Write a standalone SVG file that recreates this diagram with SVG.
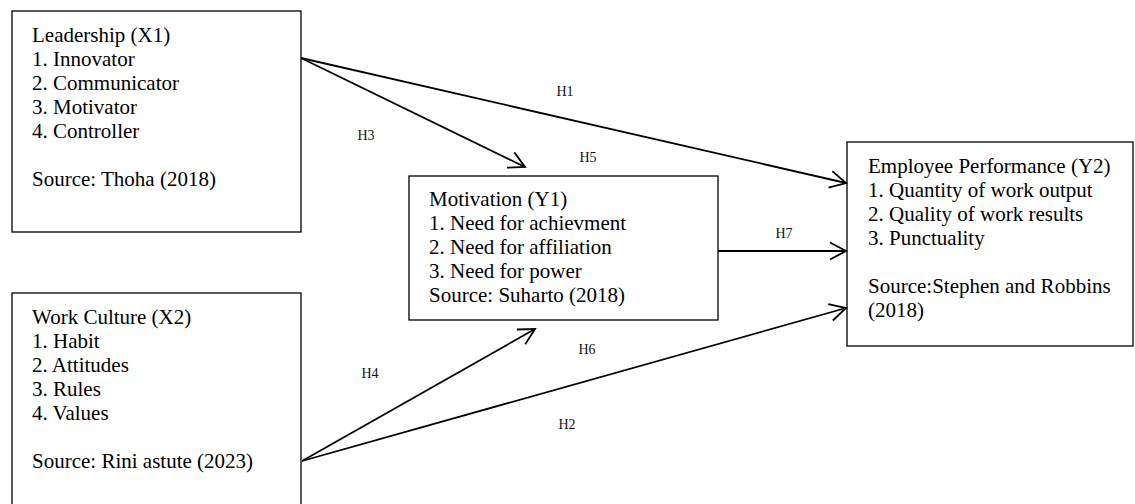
<svg xmlns="http://www.w3.org/2000/svg" width="1135" height="504" viewBox="0 0 1135 504">
<style>
.box{fill:#fff;stroke:#000;stroke-width:1.3}
.t{font-family:"Liberation Serif","Times New Roman",serif;font-size:21px;fill:#000}
.lbl{font-family:"Liberation Serif","Times New Roman",serif;font-size:14px;fill:#111;text-anchor:middle}
.c{fill:none;stroke:#000;stroke-width:1.8;marker-end:url(#ah)}
</style>
<defs>
<marker id="ah" markerUnits="userSpaceOnUse" markerWidth="24" markerHeight="24" viewBox="-20 -12 24 24" refX="0" refY="0" orient="auto">
<path d="M-16,-8.5 L0,0 L-16,8.5" fill="none" stroke="#000" stroke-width="1.8"/>
</marker>
</defs>
<rect width="1135" height="504" fill="#fff"/>
<g id="leadership">
<rect class="box" x="12" y="11" width="289" height="221"/>
<text class="t" x="32" y="42">Leadership (X1)</text>
<text class="t" x="32" y="66">1. Innovator</text>
<text class="t" x="32" y="90">2. Communicator</text>
<text class="t" x="32" y="114">3. Motivator</text>
<text class="t" x="32" y="138">4. Controller</text>
<text class="t" x="32" y="186">Source: Thoha (2018)</text>
</g>
<g id="work-culture">
<rect class="box" x="12" y="293" width="289" height="230"/>
<text class="t" x="32" y="324">Work Culture (X2)</text>
<text class="t" x="32" y="348">1. Habit</text>
<text class="t" x="32" y="372">2. Attitudes</text>
<text class="t" x="32" y="396">3. Rules</text>
<text class="t" x="32" y="420">4. Values</text>
<text class="t" x="32" y="468">Source: Rini astute (2023)</text>
</g>
<g id="motivation">
<rect class="box" x="409" y="176" width="309" height="144"/>
<text class="t" x="429" y="206">Motivation (Y1)</text>
<text class="t" x="429" y="230">1. Need for achievment</text>
<text class="t" x="429" y="254">2. Need for affiliation</text>
<text class="t" x="429" y="278">3. Need for power</text>
<text class="t" x="429" y="302">Source: Suharto (2018)</text>
</g>
<g id="employee-performance">
<rect class="box" x="847" y="142" width="286" height="204"/>
<text class="t" x="868" y="173">Employee Performance (Y2)</text>
<text class="t" x="868" y="197">1. Quantity of work output</text>
<text class="t" x="868" y="221">2. Quality of work results</text>
<text class="t" x="868" y="245">3. Punctuality</text>
<text class="t" x="868" y="293">Source:Stephen and Robbins</text>
<text class="t" x="868" y="317">(2018)</text>
</g>
<g id="connectors">
<line class="c" x1="301" y1="58" x2="846" y2="183"/>
<line class="c" x1="301" y1="58" x2="525" y2="167"/>
<line class="c" x1="718" y1="251" x2="846" y2="251"/>
<line class="c" x1="302" y1="461" x2="535" y2="329"/>
<line class="c" x1="302" y1="461" x2="846" y2="308"/>
<text class="lbl" x="565" y="96">H1</text>
<text class="lbl" x="366" y="140">H3</text>
<text class="lbl" x="588" y="162">H5</text>
<text class="lbl" x="784" y="238">H7</text>
<text class="lbl" x="587" y="354">H6</text>
<text class="lbl" x="370" y="378">H4</text>
<text class="lbl" x="567" y="429">H2</text>
</g>
</svg>
